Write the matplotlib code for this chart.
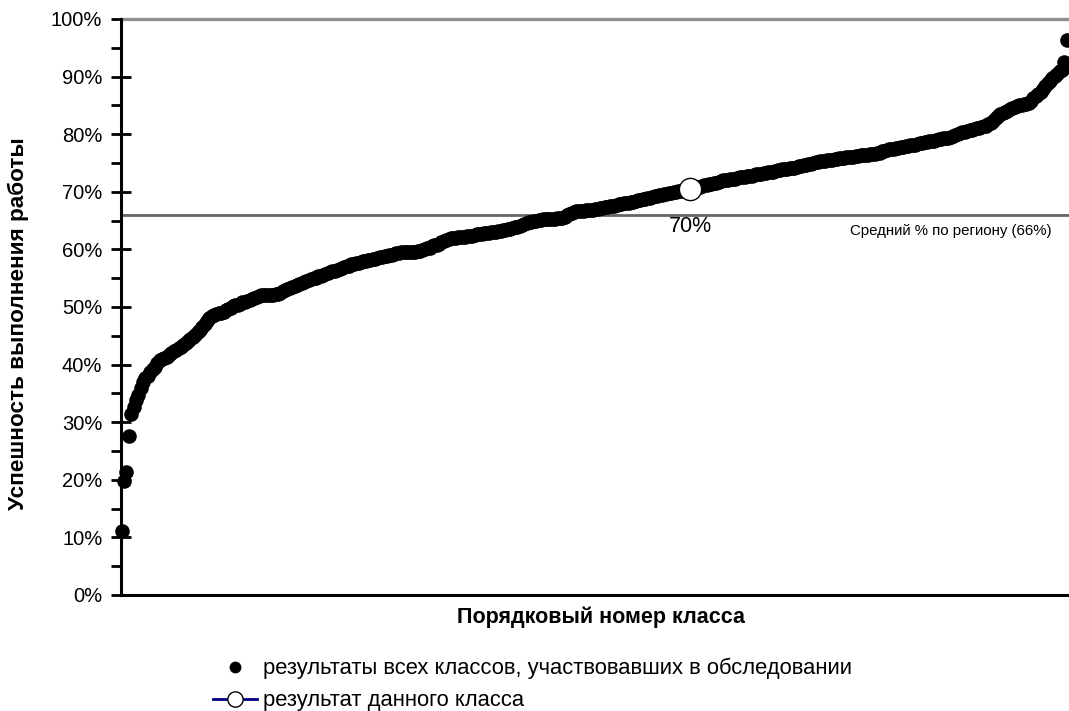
import matplotlib
matplotlib.use("Agg")
import matplotlib.pyplot as plt
from matplotlib.lines import Line2D
from matplotlib.ticker import MultipleLocator, FuncFormatter

plt.rcParams['font.family'] = ['Liberation Sans', 'DejaVu Sans']

# результаты всех классов, отсортированы по возрастанию (%)
results = [
    11.1, 19.7, 21.4, 27.6, 31.4, 32.6, 33.9, 34.8, 35.9, 37.0, 37.6, 38.1, 38.7, 39.2, 39.6, 40.3, 40.8, 41.0, 41.2, 41.4,
    41.7, 42.0, 42.3, 42.6, 42.8, 43.1, 43.4, 43.8, 44.1, 44.5, 44.8, 45.2, 45.6, 46.0, 46.5, 47.0, 47.5, 48.0, 48.4, 48.6,
    48.8, 48.9, 49.0, 49.2, 49.4, 49.6, 49.9, 50.2, 50.3, 50.4, 50.6, 50.8, 50.9, 51.1, 51.2, 51.4, 51.6, 51.7, 51.9, 52.0,
    52.1, 52.1, 52.1, 52.1, 52.1, 52.2, 52.3, 52.5, 52.7, 52.9, 53.1, 53.3, 53.5, 53.7, 53.9, 54.0, 54.2, 54.3, 54.5, 54.7,
    54.8, 55.0, 55.1, 55.3, 55.4, 55.6, 55.7, 55.9, 56.0, 56.2, 56.3, 56.5, 56.6, 56.8, 56.9, 57.1, 57.2, 57.4, 57.5, 57.6,
    57.7, 57.8, 57.9, 58.0, 58.1, 58.2, 58.3, 58.4, 58.5, 58.6, 58.7, 58.8, 58.9, 59.0, 59.1, 59.2, 59.3, 59.4, 59.5, 59.6,
    59.6, 59.6, 59.6, 59.6, 59.6, 59.7, 59.8, 59.9, 60.0, 60.2, 60.3, 60.5, 60.7, 60.8, 61.0, 61.2, 61.4, 61.6, 61.8, 61.9,
    62.0, 62.0, 62.1, 62.1, 62.2, 62.2, 62.3, 62.4, 62.4, 62.5, 62.6, 62.6, 62.7, 62.8, 62.8, 62.9, 63.0, 63.0, 63.1, 63.2,
    63.2, 63.3, 63.4, 63.5, 63.6, 63.7, 63.8, 63.9, 64.1, 64.2, 64.4, 64.5, 64.7, 64.8, 65.0, 65.0, 65.1, 65.1, 65.2, 65.2,
    65.2, 65.3, 65.3, 65.3, 65.4, 65.4, 65.4, 65.6, 65.9, 66.2, 66.4, 66.5, 66.6, 66.6, 66.7, 66.7, 66.8, 66.8, 66.9, 66.9,
    67.0, 67.0, 67.1, 67.2, 67.3, 67.4, 67.5, 67.5, 67.6, 67.7, 67.8, 67.9, 68.0, 68.0, 68.1, 68.2, 68.3, 68.4, 68.5, 68.6,
    68.7, 68.8, 68.9, 69.0, 69.1, 69.2, 69.3, 69.4, 69.5, 69.6, 69.7, 69.8, 69.8, 69.9, 70.0, 70.1, 70.2, 70.3, 70.3, 70.4,
    70.5, 70.6, 70.7, 70.8, 70.9, 71.0, 71.1, 71.2, 71.3, 71.4, 71.5, 71.6, 71.7, 71.9, 72.0, 72.0, 72.1, 72.2, 72.2, 72.3,
    72.4, 72.5, 72.5, 72.6, 72.7, 72.8, 72.8, 72.9, 73.0, 73.1, 73.1, 73.2, 73.3, 73.4, 73.4, 73.5, 73.6, 73.7, 73.8, 73.9,
    73.9, 74.0, 74.1, 74.2, 74.2, 74.3, 74.4, 74.5, 74.6, 74.7, 74.8, 74.9, 75.0, 75.1, 75.2, 75.3, 75.3, 75.4, 75.5, 75.5,
    75.6, 75.7, 75.7, 75.8, 75.9, 75.9, 76.0, 76.0, 76.1, 76.1, 76.2, 76.2, 76.3, 76.3, 76.4, 76.4, 76.5, 76.5, 76.6, 76.7,
    76.8, 77.0, 77.1, 77.3, 77.4, 77.5, 77.5, 77.6, 77.6, 77.7, 77.8, 77.9, 78.0, 78.1, 78.2, 78.2, 78.3, 78.4, 78.5, 78.6,
    78.7, 78.8, 78.8, 78.9, 79.0, 79.1, 79.2, 79.3, 79.3, 79.4, 79.5, 79.7, 79.9, 80.1, 80.2, 80.3, 80.4, 80.5, 80.7, 80.8,
    80.9, 81.0, 81.1, 81.3, 81.4, 81.5, 81.7, 81.9, 82.3, 82.8, 83.2, 83.5, 83.7, 83.9, 84.1, 84.3, 84.5, 84.7, 84.9, 85.1,
    85.1, 85.2, 85.2, 85.4, 85.8, 86.2, 86.6, 87.0, 87.4, 87.8, 88.3, 88.8, 89.3, 89.7, 90.1, 90.5, 90.9, 91.2, 92.6, 96.4,
]
class_no = list(range(1, len(results) + 1))

this_class_no = 241
this_class_value = 70.5
this_class_label = '70%'

region_mean = 66
region_label = 'Средний % по региону (66%)'

fig = plt.figure(figsize=(10.69, 7.11), dpi=100)
ax = fig.add_axes([0.1132, 0.1632, 0.8868, 0.8101])

ax.scatter(class_no, results, s=110, color='black', zorder=3, clip_on=False,
           linewidths=0)
ax.plot([this_class_no], [this_class_value], marker='o', ms=16, mfc='white',
        mec='black', mew=1, color='navy', zorder=5, clip_on=False)
ax.text(this_class_no, this_class_value - 6.6, this_class_label, ha='center',
        va='center', fontsize=15.5)

# средний по региону и верхняя граница
ax.axhline(region_mean, color='#666666', lw=2.0, zorder=2)
ax.axhline(100, color='#909090', lw=2.4, zorder=2, clip_on=False)
ax.text(0.982, (region_mean - 2.8) / 100, region_label, transform=ax.transAxes,
        ha='right', va='center', fontsize=10.8)

ax.set_xlim(0.7, 401)
ax.set_ylim(0, 100)
ax.yaxis.set_major_locator(MultipleLocator(10))
ax.yaxis.set_minor_locator(MultipleLocator(5))
ax.yaxis.set_major_formatter(FuncFormatter(lambda v, p: '%d%%' % v))
ax.tick_params(axis='y', which='major', direction='inout', length=15, width=2,
               labelsize=14.5, pad=6)
ax.tick_params(axis='y', which='minor', direction='out', length=7, width=2)
ax.set_xticks([])
for s in ['top', 'right']:
    ax.spines[s].set_visible(False)
for s in ['left', 'bottom']:
    ax.spines[s].set_linewidth(2.2)

fig.text(18 / 1069, 1 - 324 / 711, 'Успешность выполнения работы', rotation=90,
         ha='center', va='center', fontsize=16.2, fontweight='bold')
fig.text(601 / 1069, 1 - 617 / 711, 'Порядковый номер класса', ha='center',
         va='center', fontsize=15.5, fontweight='bold')

handles = [
    Line2D([], [], ls='none', marker='o', ms=7.5, color='black'),
    Line2D([], [], color='navy', lw=2, marker='o', ms=11, mfc='white', mec='black', mew=1),
]
labels = ['результаты всех классов, участвовавших в обследовании',
          'результат данного класса']
fig.legend(handles, labels, loc='upper left', bbox_to_anchor=(213 / 1069, 1 - 658 / 711),
           frameon=False, fontsize=15.8, handlelength=2.02, handletextpad=0.28,
           labelspacing=0.5, borderpad=0, borderaxespad=0)

fig.savefig('out.png', dpi=100)
